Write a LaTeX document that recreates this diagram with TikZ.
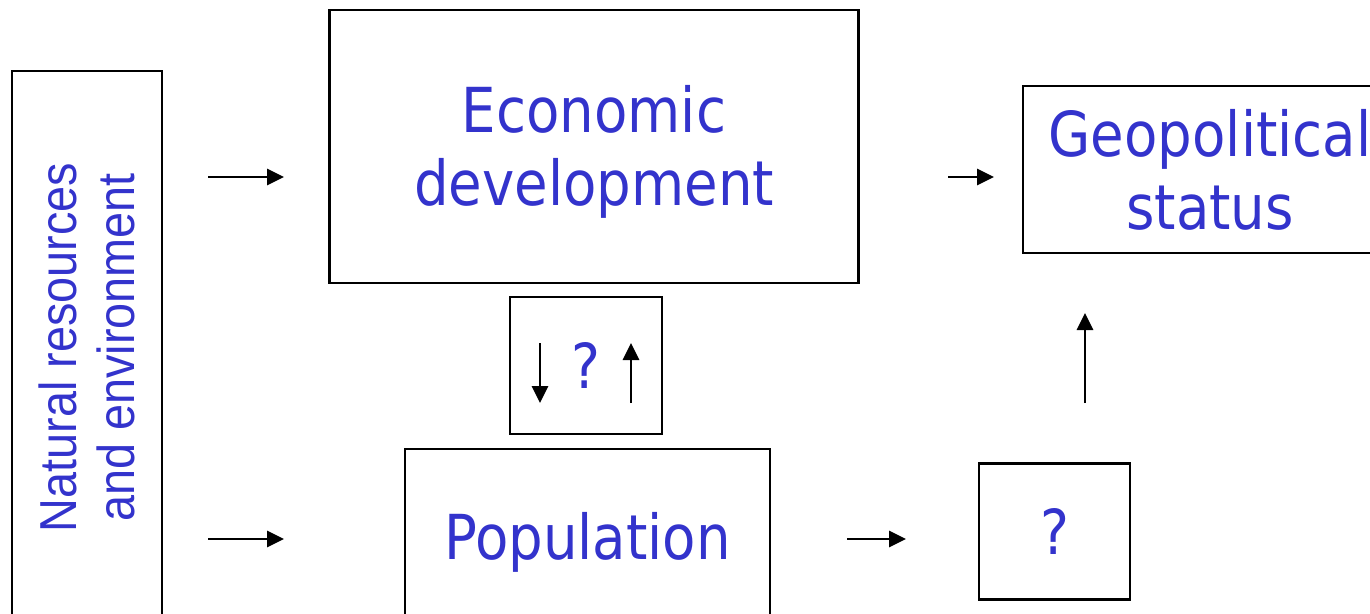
\documentclass[tikz,border=0pt]{standalone}
\usepackage{fontspec}
\setmainfont[FakeStretch=0.88]{DejaVu Sans}
\newfontfamily\narrowsans[FakeStretch=0.9]{Liberation Sans}
\usetikzlibrary{arrows.meta}
\definecolor{labelblue}{RGB}{51,51,204}

\begin{document}
\begin{tikzpicture}[x=1pt, y=-1pt, >={Triangle[length=17pt, width=16pt]},
    every box/.style={draw, line width=2.5pt, inner sep=0pt, text=labelblue,
      align=center, font=\fontsize{62}{73}\selectfont},
    flow/.style={->, line width=2.8pt}]

  \useasboundingbox (0,0) rectangle (1370,613);
  \clip (0,0) rectangle (1370,613);

  \node [every box, rotate=90, minimum width=553, minimum height=150,
    font=\narrowsans\fontsize{52}{58}\selectfont] (nature) at (87,347.5)
    {Natural resources\\and environment};
  \node [every box, minimum width=529, minimum height=273] (economy) at (594,146.5)
    {\rule{0pt}{57pt}Economic\\development};
  \node [every box, minimum width=152, minimum height=137] (link) at (586,365.5) {?};
  \node [every box, minimum width=365, minimum height=186] (population) at (587.5,542) {Population};
  \node [every box, minimum width=151, minimum height=136] (unknown) at (1054.5,531.5) {?};
  \node [every box, minimum width=374, minimum height=167] (geopolitics) at (1210,169.5)
    {Geopolitical\\status};

  % arrow ends
  \coordinate (nature-top) at (208,177);
  \coordinate (economy-in) at (284,177);
  \coordinate (nature-bottom) at (208,539);
  \coordinate (population-in) at (284,539);
  \coordinate (economy-out) at (948,177);
  \coordinate (geopolitics-in) at (994,177);
  \coordinate (population-out) at (847,539);
  \coordinate (unknown-in) at (906,539);
  \coordinate (unknown-out) at (1085,403);
  \coordinate (geopolitics-below) at (1085,313);
  \coordinate (down-from) at (540,343);
  \coordinate (down-to) at (540,403);
  \coordinate (up-from) at (631,403);
  \coordinate (up-to) at (631,343);

  \foreach \s/\t in {nature-top/economy-in, nature-bottom/population-in,
      economy-out/geopolitics-in, population-out/unknown-in,
      unknown-out/geopolitics-below, down-from/down-to, up-from/up-to}
    \draw [flow] (\s) -- (\t);

\end{tikzpicture}
\end{document}
